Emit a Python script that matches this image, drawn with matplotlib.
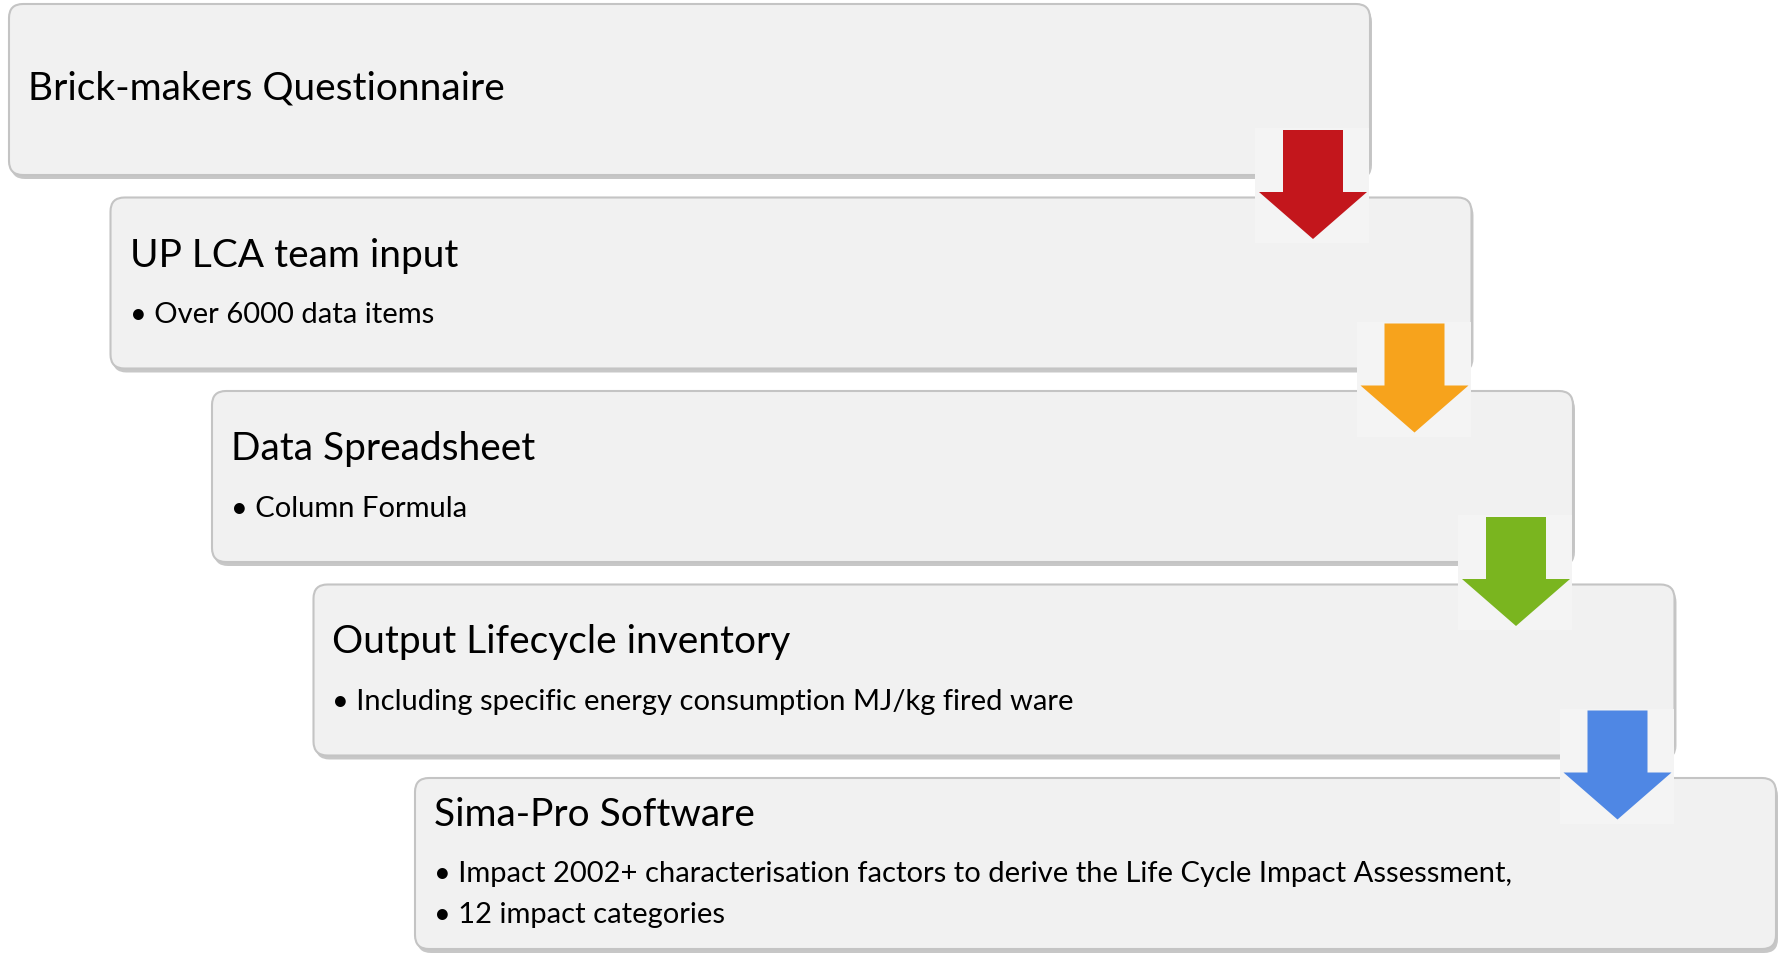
import matplotlib
matplotlib.use("Agg")
import matplotlib.pyplot as plt
from matplotlib.patches import FancyBboxPatch, Polygon, Rectangle

plt.rcParams['font.family'] = ['Lato', 'DejaVu Sans']

# diagram content
titles = ['Brick-makers Questionnaire', 'UP LCA team input', 'Data Spreadsheet',
          'Output Lifecycle inventory', 'Sima-Pro Software']
bullets = [[],
           ['Over 6000 data items'],
           ['Column Formula'],
           ['Including specific energy consumption MJ/kg fired ware'],
           ['Impact 2002+ characterisation factors to derive the Life Cycle Impact Assessment,',
            '12 impact categories']]
arrow_colors = ['#c3161c', '#f7a31c', '#7ab51f', '#4f87e4']

# layout (pixels of the 1778x954 canvas)
W, H = 1778, 954
box_x0, box_y0 = 9, 5
box_w, box_h = 1361, 171
step_x, step_y = 101.5, 193.5
title_fs, bullet_fs = 28, 21

fig = plt.figure(figsize=(W / 100, H / 100), dpi=100)
ax = fig.add_axes([0, 0, 1, 1])
ax.set_xlim(0, W)
ax.set_ylim(H, 0)
ax.axis('off')

for i, title in enumerate(titles):
    x = box_x0 + i * step_x
    y = box_y0 + i * step_y
    # drop shadow
    sh = FancyBboxPatch((x + 2, y + 4), box_w, box_h,
                        boxstyle='round,pad=0,rounding_size=14',
                        fc='#9a9a9a', ec='none', alpha=0.55, zorder=1 + 3 * i)
    ax.add_patch(sh)
    box = FancyBboxPatch((x, y), box_w, box_h,
                         boxstyle='round,pad=0,rounding_size=14',
                         fc='#f1f1f1', ec='#c4c4c4', lw=1.5, zorder=2 + 3 * i)
    ax.add_patch(box)

    if not bullets[i]:
        ax.text(x + 19, y + box_h / 2 - 2, title, fontsize=title_fs, va='center',
                ha='left', color='#000000', zorder=3 + 3 * i)
    elif len(bullets[i]) == 1:
        ax.text(x + 19, y + 57, title, fontsize=title_fs, va='center', ha='left',
                color='#000000', zorder=3 + 3 * i)
        ax.text(x + 19, y + 117, '\u2022 ' + bullets[i][0], fontsize=bullet_fs,
                va='center', ha='left', color='#000000', zorder=3 + 3 * i)
    else:
        ax.text(x + 19, y + 36, title, fontsize=title_fs, va='center', ha='left',
                color='#000000', zorder=3 + 3 * i)
        for j, b in enumerate(bullets[i]):
            ax.text(x + 19, y + 95 + j * 41, '\u2022 ' + b, fontsize=bullet_fs,
                    va='center', ha='left', color='#000000', zorder=3 + 3 * i)

# arrows between boxes
for i, col in enumerate(arrow_colors):
    R = box_x0 + i * step_x + box_w
    B = box_y0 + i * step_y + box_h
    cx = R - 57
    top, neck, tip = B - 45, B + 17, B + 64
    ax.add_patch(Rectangle((cx - 58, top - 2), 114, tip - top + 6,
                           fc='#f4f4f4', ec='none', zorder=50))
    pts = [(cx - 30, top), (cx + 30, top), (cx + 30, neck), (cx + 54, neck),
           (cx, tip), (cx - 54, neck), (cx - 30, neck)]
    ax.add_patch(Polygon(pts, closed=True, fc=col, ec='none', zorder=51))

fig.savefig('out.png', dpi=100, facecolor='white')
